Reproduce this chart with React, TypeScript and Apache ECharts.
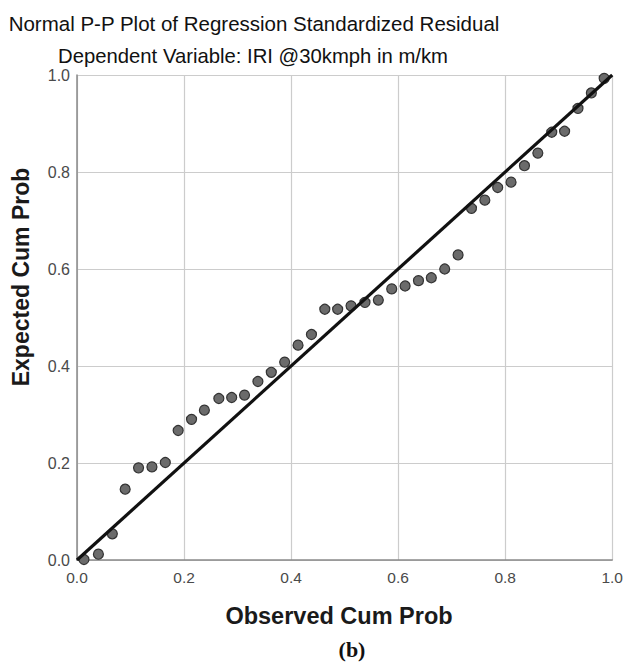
import React, { useEffect, useRef } from "react";
import * as echarts from "echarts";

const observed = [
  0.013, 0.040, 0.066, 0.090, 0.115, 0.140, 0.165, 0.189, 0.214, 0.238,
  0.265, 0.289, 0.313, 0.338, 0.363, 0.388, 0.413, 0.438, 0.463, 0.487,
  0.512, 0.538, 0.563, 0.588, 0.613, 0.638, 0.662, 0.687, 0.712, 0.737,
  0.762, 0.786, 0.811, 0.836, 0.861, 0.887, 0.911, 0.936, 0.961, 0.985,
];
const expected = [
  0.001, 0.012, 0.054, 0.146, 0.190, 0.192, 0.201, 0.267, 0.290, 0.309,
  0.333, 0.335, 0.340, 0.368, 0.387, 0.408, 0.443, 0.465, 0.517, 0.517,
  0.524, 0.531, 0.536, 0.559, 0.565, 0.576, 0.582, 0.600, 0.629, 0.725,
  0.742, 0.768, 0.779, 0.813, 0.839, 0.882, 0.884, 0.931, 0.963, 0.993,
];
const refLine = [
  [0, 0],
  [1, 1],
];
const titleText = "Normal P-P Plot of Regression Standardized Residual";
const subtitleText = "Dependent Variable: IRI @30kmph in m/km";
const xAxisName = "Observed Cum Prob";
const yAxisName = "Expected Cum Prob";
const caption = "(b)";

const SANS = "Liberation Sans, Arial, sans-serif";

export default function App() {
  const ref = useRef<HTMLDivElement>(null);
  useEffect(() => {
    if (!ref.current) return;
    const chart = echarts.init(ref.current, null, { renderer: "svg" });
    const pts = observed.map((x, i) => [x, expected[i]]);
    chart.setOption({
      animation: false,
      backgroundColor: "#ffffff",
      title: [
        {
          text: titleText,
          left: 249,
          top: 7,
          textAlign: "center",
          textStyle: { fontSize: 20.5, fontWeight: "normal", color: "#111", fontFamily: SANS, lineHeight: 22 },
        },
        {
          text: subtitleText,
          left: 248,
          top: 41,
          textAlign: "center",
          textStyle: { fontSize: 20.3, fontWeight: "normal", color: "#111", fontFamily: SANS, lineHeight: 20 },
        },
      ],
      graphic: [
        {
          type: "text",
          x: 339,
          y: 615.5,
          style: {
            text: xAxisName,
            fontSize: 23.5,
            fontWeight: "bold",
            fill: "#1a1a1a",
            fontFamily: SANS,
            textAlign: "center",
            textVerticalAlign: "middle",
          },
        },
        {
          type: "text",
          x: 21,
          y: 277,
          rotation: Math.PI / 2,
          style: {
            text: yAxisName,
            fontSize: 23,
            fontWeight: "bold",
            fill: "#1a1a1a",
            fontFamily: SANS,
            textAlign: "center",
            textVerticalAlign: "middle",
          },
        },
        {
          type: "text",
          x: 352,
          y: 649,
          style: {
            text: caption,
            fontSize: 22,
            fontWeight: "bold",
            fill: "#111",
            fontFamily: "Liberation Serif, Times New Roman, serif",
            textAlign: "center",
            textVerticalAlign: "middle",
          },
        },
      ],
      grid: { left: 77, right: 11, top: 75, bottom: 104, containLabel: false },
      xAxis: {
        type: "value",
        min: 0,
        max: 1,
        interval: 0.2,
        axisLine: { show: true, lineStyle: { color: "#8a8a8a", width: 1.5 } },
        axisTick: { show: false },
        axisLabel: { color: "#4a4a4a", fontSize: 15.5, fontFamily: SANS, margin: 9, formatter: (v: number) => v.toFixed(1) },
        splitLine: { show: true, lineStyle: { color: "#cccccc", width: 1.2 } },
      },
      yAxis: {
        type: "value",
        min: 0,
        max: 1,
        interval: 0.2,
        axisLine: { show: true, lineStyle: { color: "#8a8a8a", width: 1.5 } },
        axisTick: { show: false },
        axisLabel: {
          color: "#4a4a4a",
          fontSize: 16,
          lineHeight: 14,
          fontFamily: SANS,
          margin: 7,
          formatter: (v: number) => v.toFixed(1),
        },
        splitLine: { show: true, lineStyle: { color: "#cccccc", width: 1.2 } },
      },
      series: [
        {
          type: "scatter",
          data: pts,
          symbol: "circle",
          symbolSize: 10,
          itemStyle: { color: "#6b6b6b", borderColor: "#333333", borderWidth: 1.2, opacity: 1 },
          z: 2,
        },
        {
          type: "line",
          data: refLine,
          symbol: "none",
          lineStyle: { color: "#111111", width: 3.2 },
          z: 3,
        },
      ],
    });
    return () => chart.dispose();
  }, []);
  return (
    <div
      ref={ref}
      style={{ position: "fixed", left: 0, top: 0, width: 626, height: 664, background: "#fff" }}
    />
  );
}
